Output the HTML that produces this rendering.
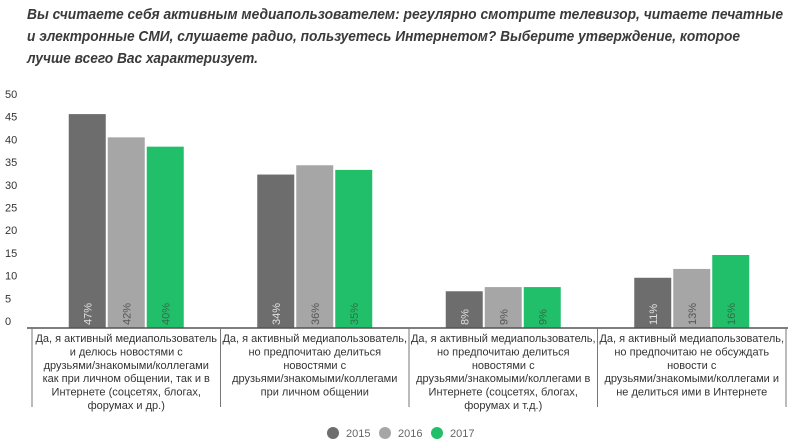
<!DOCTYPE html>
<html><head><meta charset="utf-8"><style>
body{margin:0;background:#fff;}
svg{display:block;font-family:"Liberation Sans",sans-serif;}
</style></head><body>
<svg id="chart" width="798" height="446" viewBox="0 0 798 446">
<g font-weight="bold" font-style="italic" font-size="15" fill="#3a3a3a">
<text x="27" y="19" textLength="756" lengthAdjust="spacingAndGlyphs">Вы считаете себя активным медиапользователем: регулярно смотрите телевизор, читаете печатные</text>
<text x="27" y="41" textLength="713" lengthAdjust="spacingAndGlyphs">и электронные СМИ, слушаете радио, пользуетесь Интернетом? Выберите утверждение, которое</text>
<text x="27" y="63" textLength="231" lengthAdjust="spacingAndGlyphs">лучше всего Вас характеризует.</text>
</g>
<g id="yaxis"></g>
<g id="bars"></g>
<g id="xaxis"></g>
<g id="legend"></g>
</svg>
<script>
const categories=[
["Да, я активный медиапользователь","и делюсь новостями с","друзьями/знакомыми/коллегами","как при личном общении, так и в","Интернете (соцсетях, блогах,","форумах и др.)"],
["Да, я активный медиапользователь,","но предпочитаю делиться","новостями с","друзьями/знакомыми/коллегами","при личном общении"],
["Да, я активный медиапользователь,","но предпочитаю делиться","новостями с","друзьями/знакомыми/коллегами в","Интернете (соцсетях, блогах,","форумах и т.д.)"],
["Да, я активный медиапользователь,","но предпочитаю не обсуждать","новости с","друзьями/знакомыми/коллегами и","не делиться ими в Интернете"]];
const seriesNames=["2015","2016","2017"];
const values2015=[46,33,7.9,10.8];
const values2016=[41,35,8.8,12.7];
const values2017=[39,34,8.8,15.7];
const labels2015=["47%","34%","8%","11%"];
const labels2016=["42%","36%","9%","13%"];
const labels2017=["40%","35%","9%","16%"];
const yTicks=[0,5,10,15,20,25,30,35,40,45,50];

const NS="http://www.w3.org/2000/svg";
const colors=["#6d6d6d","#a6a6a6","#22bf6a"];
const txtColors=["#e0e0e0","#555555","#2f6e48"];
const y0=328,unit=4.65,left=32,catW=188.5,barW=37,gap=2;
const yS=v=>y0-v*unit;
const yL=v=>325-v*4.54;
const xCat=i=>left+i*catW;
function mk(tag,attrs,parent,text){const e=document.createElementNS(NS,tag);for(const k in attrs)e.setAttribute(k,attrs[k]);if(text!==undefined)e.textContent=text;parent.appendChild(e);return e;}
const yaxis=document.getElementById('yaxis');
yTicks.forEach(t=>{const e=mk('text',{x:5,y:yL(t),'font-size':11,fill:'#333'},yaxis,String(t));

});
const bars=document.getElementById('bars');
const series=[values2015,values2016,values2017];
const labs=[labels2015,labels2016,labels2017];
categories.forEach((c,i)=>{
 const gx=xCat(i)+catW/2-(3*barW+2*gap)/2;
 series.forEach((s,j)=>{
  const x=gx+j*(barW+gap);
  const r=mk('rect',{x:x,y:yS(s[i]),width:barW,height:y0-yS(s[i]),fill:colors[j]},bars);
  
  
  const tx=x+barW/2+4,ty=y0-3;
  const t=mk('text',{x:tx,y:ty,'font-size':11,fill:txtColors[j],transform:'rotate(-90 '+tx+' '+ty+')'},bars,labs[j][i]);
  
  
 });
});
const xaxis=document.getElementById('xaxis');
const ax=mk('line',{x1:27,y1:y0,x2:788,y2:y0,stroke:'#555','stroke-width':1.5},xaxis);


for(let i=0;i<=categories.length;i++){
 const l=mk('line',{x1:xCat(i),y1:y0,x2:xCat(i),y2:407,stroke:'#777','stroke-width':1},xaxis);
 
 
}
categories.forEach((c,i)=>{
 const g=mk('text',{'font-size':11,fill:'#333','text-anchor':'middle'},xaxis);
 
 
 c.forEach((line,k)=>mk('tspan',{x:xCat(i)+catW/2,y:342+k*13.4},g,line));
});
const legend=document.getElementById('legend');
const lx=[333,385,437];
seriesNames.forEach((n,j)=>{
 const c=mk('circle',{cx:lx[j],cy:433,r:6,fill:colors[j]},legend);
 
 
 const t=mk('text',{x:lx[j]+13,y:437,'font-size':11,fill:'#666'},legend,n);
 
 
});
</script>
</body></html>
